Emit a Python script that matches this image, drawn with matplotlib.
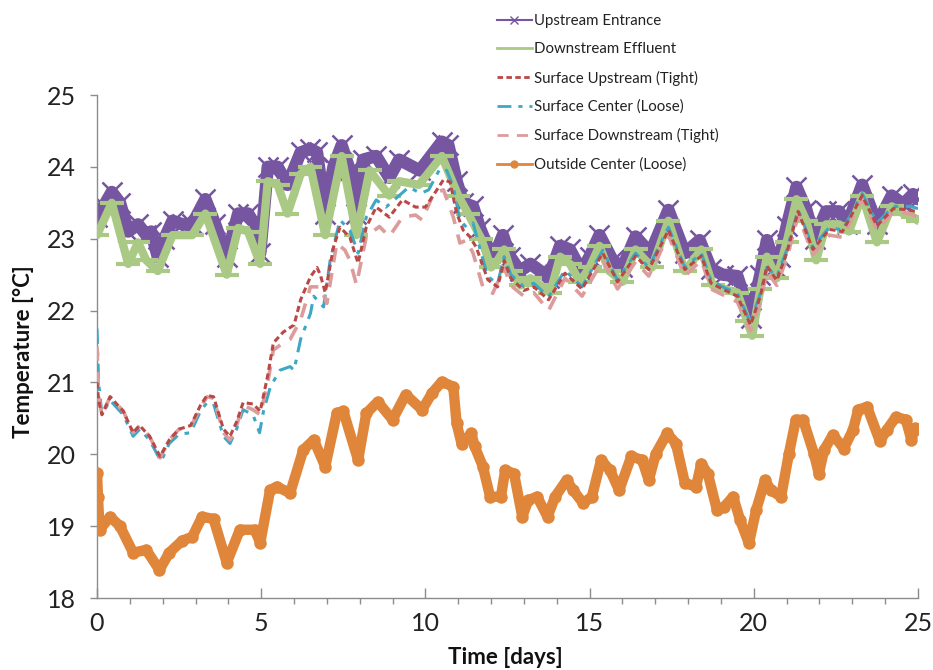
import matplotlib
matplotlib.use("Agg")
import matplotlib.pyplot as plt
from matplotlib.lines import Line2D
from matplotlib.ticker import MultipleLocator

plt.rcParams['font.family'] = ['Lato', 'DejaVu Sans']

# ---------------- data ----------------
up_days = [0.0, 0.2, 0.45, 0.7, 0.95, 1.25, 1.5, 1.65, 1.85, 2.05, 2.3, 2.6, 2.9, 3.3, 3.6,
           3.95, 4.3, 4.6, 4.8, 4.97, 5.2, 5.5, 5.8, 6.2, 6.5, 6.7, 6.95, 7.2, 7.45, 7.7,
           7.9, 8.1, 8.5, 8.9, 9.2, 9.83, 10.5, 10.7, 10.95, 11.15, 11.45, 11.66, 11.97,
           12.18, 12.36, 12.58, 12.88, 13.2, 13.5, 13.75, 14.1, 14.4, 14.75, 15.0, 15.3,
           15.7, 16.0, 16.4, 16.85, 17.4, 17.9, 18.35, 18.7, 19.05, 19.5, 19.8, 19.9, 20.2,
           20.4, 20.65, 20.8, 21.0, 21.3, 21.6, 21.85, 22.2, 22.6, 22.85, 23.3, 23.75, 24.2,
           24.55, 24.85, 25.0]
up_temp = [23.3, 23.45, 23.65, 23.5, 23.1, 23.2, 23.05, 23.1, 22.75, 23.0, 23.25, 23.2, 23.2,
           23.55, 23.2, 22.75, 23.35, 23.35, 23.2, 22.8, 24.0, 24.0, 23.75, 24.2, 24.25,
           24.2, 23.35, 24.0, 24.3, 23.95, 23.35, 24.1, 24.15, 23.85, 24.1, 23.95, 24.35,
           24.3, 23.8, 23.5, 23.45, 23.15, 22.8, 22.85, 23.05, 22.75, 22.55, 22.65, 22.55,
           22.45, 22.9, 22.85, 22.55, 22.75, 23.05, 22.7, 22.6, 23.03, 22.8, 23.4, 22.8,
           22.98, 22.58, 22.5, 22.48, 22.05, 21.9, 22.5, 22.98, 22.6, 22.75, 23.17, 23.72,
           23.4, 23.0, 23.38, 23.38, 23.2, 23.75, 23.2, 23.6, 23.48, 23.62, 23.55]

down_days = [0.0, 0.45, 0.95, 1.25, 1.5, 1.85, 2.3, 2.9, 3.3, 3.95, 4.3, 4.6, 4.97, 5.2, 5.5,
             5.8, 6.2, 6.5, 6.95, 7.45, 7.9, 8.3, 8.9, 9.2, 9.8, 10.5, 11.0, 11.3, 11.7,
             12.0, 12.2, 12.4, 12.6, 12.9, 13.2, 13.5, 13.8, 14.1, 14.4, 14.7, 15.0, 15.3,
             15.6, 16.0, 16.4, 16.9, 17.4, 17.9, 18.4, 18.75, 19.1, 19.5, 19.8, 19.95, 20.2,
             20.4, 20.7, 21.0, 21.3, 21.6, 21.9, 22.2, 22.6, 22.9, 23.3, 23.75, 24.2, 24.55,
             24.85, 25.0]
down_temp = [23.05, 23.5, 22.65, 22.95, 22.7, 22.55, 23.05, 23.05, 23.35, 22.5, 23.15, 23.1,
             22.65, 23.8, 23.75, 23.35, 23.9, 24.0, 23.05, 24.15, 23.05, 23.95, 23.6, 23.8,
             23.75, 24.15, 23.6, 23.35, 23.0, 22.6, 22.7, 22.85, 22.55, 22.35, 22.45, 22.35,
             22.25, 22.75, 22.65, 22.4, 22.6, 22.9, 22.55, 22.4, 22.85, 22.6, 23.25, 22.55,
             22.85, 22.35, 22.3, 22.25, 21.85, 21.65, 22.3, 22.75, 22.45, 22.95, 23.55,
             23.25, 22.7, 23.2, 23.2, 23.1, 23.6, 22.95, 23.45, 23.35, 23.3, 23.25]

su_days = [0.0, 0.05, 0.15, 0.4, 0.8, 1.1, 1.3, 1.6, 1.92, 2.2, 2.5, 2.85, 3.15, 3.35, 3.55,
           3.85, 4.05, 4.25, 4.45, 4.75, 4.97, 5.2, 5.37, 5.67, 6.0, 6.2, 6.5, 6.7, 6.8, 6.95,
           7.2, 7.4, 7.7, 7.95, 8.2, 8.5, 8.9, 9.3, 9.7, 10.0, 10.35, 10.55, 10.75, 10.95,
           11.15, 11.35, 11.55, 11.9, 12.2, 12.4, 12.6, 13.0, 13.3, 13.75, 14.25, 14.77,
           15.4, 15.85, 16.4, 16.8, 17.4, 17.9, 18.4, 18.7, 19.05, 19.5, 19.9, 20.2, 20.4,
           20.7, 21.0, 21.35, 21.8, 22.3, 22.7, 23.3, 23.75, 24.25, 24.75, 25.0]
su_temp = [21.0, 20.75, 20.55, 20.8, 20.6, 20.3, 20.4, 20.25, 19.97, 20.2, 20.35, 20.4, 20.68,
           20.82, 20.8, 20.35, 20.25, 20.45, 20.72, 20.7, 20.6, 21.1, 21.55, 21.7, 21.8,
           22.15, 22.47, 22.6, 22.5, 22.25, 22.88, 23.16, 23.02, 22.66, 23.16, 23.44, 23.3,
           23.54, 23.44, 23.44, 23.68, 23.82, 23.79, 23.36, 23.12, 23.03, 22.88, 22.43,
           22.33, 22.7, 22.45, 22.28, 22.33, 22.15, 22.52, 22.3, 22.8, 22.4, 22.76, 22.57,
           23.12, 22.57, 22.76, 22.38, 22.3, 22.2, 21.8, 22.2, 22.62, 22.42, 22.8, 23.38,
           22.85, 23.13, 23.1, 23.6, 23.18, 23.42, 23.4, 23.37]

sc_days = [0.0, 0.05, 0.15, 0.4, 0.8, 1.1, 1.3, 1.6, 1.95, 2.2, 2.5, 2.85, 3.15, 3.35, 3.55,
           3.85, 4.05, 4.25, 4.45, 4.75, 4.95, 5.07, 5.28, 5.57, 5.88, 6.0, 6.2, 6.5, 6.6,
           6.9, 7.1, 7.4, 7.7, 7.95, 8.2, 8.5, 8.8, 9.1, 9.5, 9.85, 10.1, 10.45, 10.65,
           10.85, 11.05, 11.25, 11.45, 11.65, 11.9, 12.2, 12.4, 12.6, 13.0, 13.3, 13.75,
           14.25, 14.77, 15.4, 15.85, 16.4, 16.8, 17.4, 17.9, 18.4, 18.7, 19.05, 19.5, 19.9,
           20.2, 20.4, 20.7, 21.0, 21.35, 21.8, 22.3, 22.7, 23.3, 23.75, 24.25, 24.75, 25.0]
sc_temp = [21.75, 21.0, 20.55, 20.75, 20.55, 20.25, 20.35, 20.2, 19.9, 20.15, 20.28, 20.3,
           20.6, 20.72, 20.7, 20.25, 20.15, 20.35, 20.62, 20.55, 20.3, 20.6, 20.94, 21.17,
           21.22, 21.17, 21.6, 21.96, 22.2, 22.05, 22.7, 23.26, 23.12, 22.8, 23.3, 23.54,
           23.44, 23.56, 23.72, 23.63, 23.68, 23.98, 23.95, 23.72, 23.26, 23.16, 23.22,
           22.88, 22.47, 22.38, 22.75, 22.5, 22.33, 22.38, 22.19, 22.56, 22.33, 22.84,
           22.42, 22.8, 22.6, 23.16, 22.6, 22.8, 22.42, 22.33, 22.24, 21.83, 22.24, 22.6,
           22.47, 22.84, 23.4, 22.88, 23.16, 23.12, 23.63, 23.22, 23.45, 23.45, 23.42]

sd_days = [0.0, 0.05, 0.15, 0.4, 0.8, 1.1, 1.3, 1.6, 1.92, 2.2, 2.5, 2.85, 3.15, 3.35, 3.55,
           3.85, 4.05, 4.25, 4.45, 4.75, 4.97, 5.2, 5.37, 5.67, 5.88, 6.2, 6.5, 6.8, 7.0,
           7.3, 7.55, 7.7, 7.9, 8.2, 8.6, 8.9, 9.3, 9.7, 9.9, 10.25, 10.55, 10.85, 11.05,
           11.25, 11.45, 11.75, 12.05, 12.4, 12.6, 13.0, 13.3, 13.75, 14.25, 14.77, 15.4,
           15.85, 16.4, 16.8, 17.4, 17.9, 18.4, 18.7, 19.05, 19.5, 19.9, 20.2, 20.4, 20.7,
           21.0, 21.35, 21.8, 22.3, 22.7, 23.3, 23.75, 24.25, 24.75, 25.0]
sd_temp = [21.5, 20.8, 20.55, 20.8, 20.6, 20.3, 20.4, 20.25, 19.95, 20.2, 20.35, 20.38,
           20.65, 20.8, 20.78, 20.3, 20.2, 20.4, 20.68, 20.62, 20.55, 21.0, 21.45, 21.55,
           21.6, 21.87, 22.33, 22.33, 22.1, 22.94, 22.84, 22.7, 22.36, 23.03, 23.17, 23.03,
           23.3, 23.33, 23.26, 23.63, 23.68, 23.3, 22.94, 22.98, 22.8, 22.33, 22.24, 22.6,
           22.35, 22.2, 22.25, 22.0, 22.45, 22.2, 22.7, 22.3, 22.68, 22.48, 23.05, 22.48,
           22.7, 22.3, 22.22, 22.12, 21.72, 22.12, 22.55, 22.35, 22.72, 23.32, 22.78, 23.05,
           23.02, 23.55, 23.12, 23.38, 23.35, 23.3]

oc_days = [0.0, 0.03, 0.08, 0.4, 0.7, 1.1, 1.5, 1.9, 2.2, 2.6, 2.9, 3.2, 3.55, 3.95, 4.35,
           4.8, 4.97, 5.27, 5.47, 5.88, 6.28, 6.6, 6.95, 7.3, 7.5, 7.95, 8.2, 8.55, 9.0, 9.4,
           9.9, 10.2, 10.5, 10.85, 10.95, 11.1, 11.4, 11.5, 11.75, 11.97, 12.3, 12.43, 12.7,
           12.95, 13.13, 13.4, 13.72, 13.95, 14.3, 14.5, 14.8, 15.07, 15.35, 15.62, 15.9,
           16.27, 16.6, 16.8, 17.02, 17.36, 17.63, 17.9, 18.24, 18.4, 18.6, 18.88, 19.1,
           19.37, 19.58, 19.85, 20.07, 20.34, 20.52, 20.83, 21.07, 21.28, 21.5, 21.83,
           21.98, 22.14, 22.41, 22.74, 23.02, 23.18, 23.45, 23.84, 24.05, 24.33, 24.63,
           24.8, 24.9, 25.0]
oc_temp = [19.74, 19.4, 18.95, 19.13, 19.0, 18.63, 18.67, 18.39, 18.63, 18.8, 18.85, 19.13,
           19.1, 18.49, 18.95, 18.95, 18.77, 19.5, 19.55, 19.46, 20.06, 20.2, 19.83, 20.57,
           20.6, 19.92, 20.57, 20.73, 20.48, 20.83, 20.62, 20.85, 21.01, 20.94, 20.43,
           20.15, 20.29, 20.11, 19.83, 19.41, 19.41, 19.78, 19.73, 19.13, 19.36, 19.41,
           19.13, 19.41, 19.64, 19.5, 19.32, 19.41, 19.92, 19.78, 19.5, 19.97, 19.92,
           19.64, 20.01, 20.29, 20.15, 19.6, 19.55, 19.87, 19.73, 19.22, 19.27, 19.41,
           19.09, 18.76, 19.22, 19.64, 19.5, 19.41, 20.01, 20.48, 20.48, 20.01, 19.73,
           20.06, 20.27, 20.08, 20.34, 20.62, 20.66, 20.18, 20.34, 20.52, 20.48, 20.2,
           20.36, 20.35]

series_names = ["Upstream Entrance", "Downstream Effluent", "Surface Upstream (Tight)",
                "Surface Center (Loose)", "Surface Downstream (Tight)", "Outside Center (Loose)"]
x_ticks = [0, 5, 10, 15, 20, 25]
y_ticks = [18, 19, 20, 21, 22, 23, 24, 25]

# ---------------- styling ----------------
c_purple = '#7656a0'
c_green = '#a9c984'
c_red = '#b94846'
c_blue = '#3ea8c4'
c_pink = '#dc9c9b'
c_orange = '#e0863a'

W, H = 933, 670
fig = plt.figure(figsize=(W / 100, H / 100), dpi=100)
ax = fig.add_axes([97 / W, 72 / H, 821 / W, 503 / H])

ax.plot(up_days, up_temp, color=c_purple, lw=9, marker='x', ms=14, mew=1.8,
        solid_joinstyle='round', solid_capstyle='round', zorder=2)
ax.plot(down_days, down_temp, color=c_green, lw=6, marker='_', ms=17, mew=3,
        solid_joinstyle='round', solid_capstyle='round', zorder=3)
ax.plot(su_days, su_temp, color=c_red, lw=2.2, dashes=(2.0, 1.2), zorder=5)
ax.plot(sc_days, sc_temp, color=c_blue, lw=2.2, dashes=(5, 2.5, 1.5, 2.5), zorder=4)
ax.plot(sd_days, sd_temp, color=c_pink, lw=2.6, dashes=(4, 3), zorder=4)
ax.plot(oc_days, oc_temp, color=c_orange, lw=7.5, marker='o', ms=9, mew=0,
        solid_joinstyle='round', solid_capstyle='round', zorder=6)

ax.set_xlim(0, 25)
ax.set_ylim(18, 25)
ax.set_xticks(x_ticks)
ax.set_yticks(y_ticks)
ax.xaxis.set_minor_locator(MultipleLocator(1))

gray = '#8c8c8c'
for s in ['top', 'right']:
    ax.spines[s].set_visible(False)
for s in ['left', 'bottom']:
    ax.spines[s].set_color(gray)
    ax.spines[s].set_linewidth(1.0)

ax.tick_params(axis='y', which='major', direction='out', length=5, width=1, color=gray,
               labelsize=18, pad=10, labelcolor='#222222')
ax.tick_params(axis='x', which='major', direction='in', length=7, width=1, color=gray,
               labelsize=18, pad=10, labelcolor='#222222')
ax.tick_params(axis='x', which='minor', direction='out', length=4, width=1, color=gray)

fig.text(24 / W, 1 - 352 / H, 'Temperature [°C]', rotation=90, ha='center', va='center',
         fontsize=16, fontweight='bold', color='#111111')
fig.text(505 / W, 1 - 657 / H, 'Time [days]', ha='center', va='center',
         fontsize=16, fontweight='bold', color='#111111')

handles = [
    Line2D([], [], color=c_purple, lw=1.5, marker='x', ms=6, mew=1, markevery=[1]),
    Line2D([], [], color=c_green, lw=2),
    Line2D([], [], color=c_red, lw=2, dashes=(2.0, 1.2)),
    Line2D([], [], color=c_blue, lw=2, dashes=(5, 2.5, 1.5, 2.5)),
    Line2D([], [], color=c_pink, lw=2, dashes=(4, 3)),
    Line2D([], [], color=c_orange, lw=2, marker='o', ms=5),
]
leg = fig.legend(handles, series_names, loc='upper left',
                 bbox_to_anchor=(497 / W, 1 - 14 / H), frameon=False, fontsize=10.8,
                 handlelength=2.3, handletextpad=0.15, labelspacing=0.95,
                 borderpad=0, borderaxespad=0)
for t in leg.get_texts():
    t.set_color('#222222')

fig.savefig('out.png', dpi=100)
